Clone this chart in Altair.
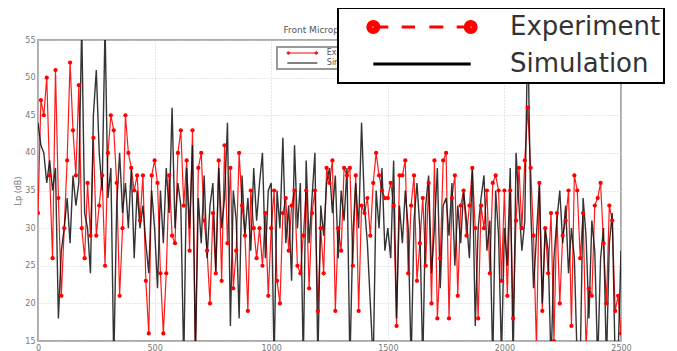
import altair as alt
import pandas as pd

# ---------------- data ----------------
freq_step = 12.5  # Hz between samples
exp_vals = [
    32, 47, 45, 50, 37, 26, 51, 34, 21, 30, 39, 52, 43, 37, 49, 30, 26, 36, 29, 42,
    29, 33, 37, 25, 40, 45, 43, 36, 21, 30, 45, 40, 38, 35, 37, 31, 37, 23, 16, 37,
    39, 36, 24, 16, 24, 37, 29, 28, 40, 43, 33, 39, 27, 43, 13, 38, 40, 31, 27, 20,
    32, 24, 39, 23, 41, 28, 38, 22, 27, 40, 33, 29, 19, 35, 30, 26, 30, 25, 32, 21,
    30, 35, 23, 20, 32, 34, 27, 33, 35, 25, 24, 29, 35, 22, 32, 35, 19, 30, 24, 38,
    36, 39, 19, 30, 27, 38, 37, 38, 25, 37, 19, 33, 32, 34, 29, 36, 40, 37, 35, 34,
    34, 36, 33, 17, 37, 37, 39, 24, 33, 37, 23, 28, 34, 25, 36, 20, 39, 18, 26, 39,
    40, 18, 34, 37, 21, 33, 35, 29, 33, 38, 30, 18, 33, 30, 35, 24, 36, 37, 35, 23,
    35, 21, 35, 18, 31, 38, 30, 39, 46, 38, 29, 14, 36, 19, 30, 24, 32, 15, 32, 20,
    29, 31, 35, 17, 37, 35, 26, 32, 14, 22, 21, 33, 34, 36, 28, 20, 33, 31, 19, 21, 16,
]
sim_vals = [
    44, 41, 40, 36, 39, 35, 38, 18, 27, 30, 34, 28, 37, 33, 36, 57, 32, 30, 24, 45,
    51, 40, 35, 57, 34, 38, 12, 33, 40, 32, 36, 30, 38, 26, 35, 30, 33, 28, 24, 35,
    30, 22, 35, 28, 38, 32, 46, 30, 36, 33, 12, 38, 30, 41, 13, 34, 28, 37, 26, 33,
    36, 24, 38, 30, 34, 44, 17, 35, 31, 18, 37, 29, 34, 27, 38, 31, 36, 40, 26, 35,
    36, 12, 35, 30, 42, 28, 33, 23, 41, 30, 36, 12, 39, 28, 34, 40, 12, 33, 29, 36,
    38, 32, 37, 26, 35, 31, 38, 12, 29, 36, 30, 44, 33, 28, 20, 12, 35, 30, 38, 27,
    30, 26, 39, 18, 33, 28, 35, 30, 12, 31, 36, 30, 12, 33, 37, 24, 30, 38, 22, 33,
    34, 29, 36, 25, 33, 28, 35, 31, 26, 38, 17, 30, 34, 37, 27, 31, 12, 35, 29, 13,
    30, 25, 38, 12, 40, 33, 27, 31, 57, 33, 22, 29, 36, 20, 30, 27, 12, 26, 31, 35,
    28, 33, 24, 30, 26, 12, 12, 34, 29, 18, 31, 27, 12, 26, 30, 12, 28, 32, 12, 13, 27,
]
x_ticks = [0, 500, 1000, 1500, 2000, 2500]
y_ticks = [15, 20, 25, 30, 35, 40, 45, 50, 55]
series = ["Experiment", "Simulation"]
series_colors = ["#ff0000", "#000000"]
title_text = "Front Microphone"
y_title = "Lp (dB)"

freq = [i * freq_step for i in range(len(exp_vals))]
df = pd.DataFrame({"f": freq, "exp": exp_vals, "sim": sim_vals})


# ---------------- legend symbol paths (unit coordinates) ----------------
def ring(cx, r):
    return (f"M{cx - r:.4f},0A{r:.4f},{r:.4f} 0 1,0 {cx + r:.4f},0"
            f"A{r:.4f},{r:.4f} 0 1,0 {cx - r:.4f},0")


def disk(cx, radii):
    return "".join(ring(cx, r) for r in radii)


big_dashes = [(-0.974, -0.674), (-0.406, -0.14), (0.146, 0.426), (0.694, 0.974)]
big_exp_path = "".join(f"M{a},0L{b},0" for a, b in big_dashes) + \
    disk(-0.974, [0.11, 0.05, 0.012]) + disk(0.974, [0.11, 0.05, 0.012])
big_sim_path = "M-0.974,0L0.974,0"

small_exp_path = "M-1,0L1,0" + disk(-0.93, [0.087, 0.033]) + disk(0.93, [0.087, 0.033])
small_sim_path = "M-1,0L1,0"

# ---------------- encodings ----------------
x_scale = alt.Scale(domain=[0, 2500], nice=False, zero=False)
y_scale = alt.Scale(domain=[15, 55], nice=False, zero=False)
x_axis = alt.Axis(values=x_ticks, title=None, labelFlush=False, format="d", labelOverlap=False)
y_axis = alt.Axis(values=y_ticks, title=y_title, titlePadding=2, labelOverlap=False, format="d")

x_enc = alt.X("f:Q", scale=x_scale, axis=x_axis)
y_exp = alt.Y("exp:Q", scale=y_scale, axis=y_axis)
y_sim = alt.Y("sim:Q", scale=y_scale, axis=y_axis)

base = alt.Chart(df)
red_line = base.mark_line(color="#ff0000", strokeWidth=1.2, clip=True, opacity=0.9).encode(x=x_enc, y=y_exp)
black_line = base.mark_line(color="#111111", strokeWidth=1.4, clip=True, opacity=0.85).encode(x=x_enc, y=y_sim)
red_pts = base.mark_circle(color="#ff0000", size=18, opacity=1, clip=True).encode(x=x_enc, y=y_exp)

empty = pd.DataFrame({"s": pd.Series([], dtype=str)})

small_legend = alt.Legend(
    title=None, orient="none", legendX=239, legendY=7, padding=2,
    fillColor="white", strokeColor="#999999", symbolSize=900,
    symbolStrokeWidth=1, symbolOffset=7.8, labelOffset=9, labelFontSize=8,
    labelColor="#555555", labelLimit=200, clipHeight=8, rowPadding=2, zindex=1,
)
small_leg = alt.Chart(empty).mark_point(filled=False, opacity=1, strokeWidth=1, size=900).encode(
    color=alt.Color("s:N", scale=alt.Scale(domain=series, range=series_colors), legend=small_legend),
    shape=alt.Shape("s:N", scale=alt.Scale(domain=series, range=[small_exp_path, small_sim_path]),
                    legend=small_legend),
)

big_legend = alt.Legend(
    title=None, orient="none", legendX=300, legendY=-32, padding=3,
    fillColor="white", strokeColor="black", symbolSize=10000,
    symbolStrokeWidth=3, symbolOffset=29.5, labelOffset=36.5, labelFontSize=26,
    labelColor="#333333", labelLimit=400, clipHeight=32, rowPadding=5,
    labelExpr="datum.label + '        '", zindex=2,
)
big_leg = alt.Chart(empty).mark_point(filled=False, opacity=1, strokeWidth=3, size=10000).encode(
    color=alt.Color("s:N", scale=alt.Scale(domain=series, range=series_colors), legend=big_legend),
    shape=alt.Shape("s:N", scale=alt.Scale(domain=series, range=[big_exp_path, big_sim_path]),
                    legend=big_legend),
)

chart = (
    alt.layer(red_line, black_line, red_pts, small_leg, big_leg)
    .resolve_scale(color="independent", shape="independent")
    .properties(
        width=583, height=301,
        title=alt.TitleParams(text=title_text, fontSize=9, color="#555555",
                              fontWeight="normal", offset=5, anchor="middle",
                              frame="group", dy=33, dx=-7),
        autosize=alt.AutoSizeParams(type="none"),
        padding={"left": 30, "top": 32, "right": 48, "bottom": 10},
    )
    .configure(font="DejaVu Sans")
    .configure_view(stroke="#aaaaaa", strokeWidth=2)
    .configure_legend(strokeWidth=2)
    .configure_axis(labelFontSize=8, labelColor="#777777", ticks=False, domain=False,
                    gridColor="#cfcfcf", gridDash=[1, 2], gridWidth=1, labelPadding=3,
                    titleFontSize=8, titleColor="#777777", titleFontWeight="normal")
)

chart.save("out.html", embed_options={"renderer": "svg", "actions": False})
